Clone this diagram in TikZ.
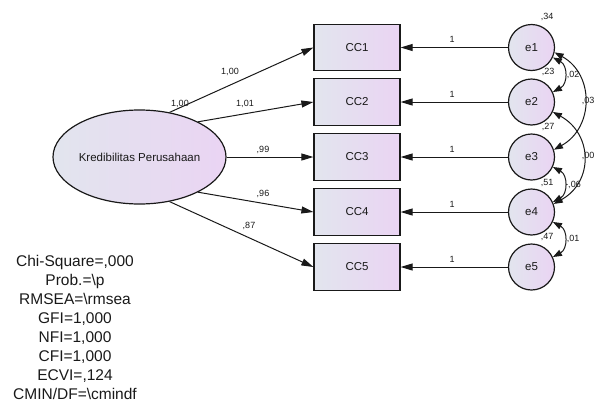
\documentclass[tikz,border=0pt]{standalone}
\usepackage{fontspec}
\setmainfont{Liberation Sans}
\usetikzlibrary{arrows.meta,shapes.geometric}
\definecolor{ink}{RGB}{25,25,25}
\definecolor{shadeL}{RGB}{226,229,238}
\definecolor{shadeR}{RGB}{234,212,243}
\begin{document}
\begin{tikzpicture}[x=1pt,y=-1pt,
  every node/.style={text=ink},
  fillgrad/.style={left color=shadeL, right color=shadeR},
  lat/.style={ellipse, draw=ink, line width=1.2pt, fillgrad,
    minimum width=173pt, minimum height=94pt, inner sep=0pt,
    font=\fontsize{11.5}{13}\selectfont},
  obs/.style={rectangle, draw=ink, line width=1.2pt, fillgrad,
    minimum width=86pt, minimum height=46.5pt, inner sep=0pt,
    font=\fontsize{11.5}{13}\selectfont},
  err/.style={circle, draw=ink, line width=1.2pt, fillgrad,
    minimum size=46pt, inner sep=0pt,
    font=\fontsize{11.5}{13}\selectfont},
  reg/.style={draw=ink, line width=1pt, -{Triangle[length=12pt,width=7pt]}},
  cov/.style={draw=ink, line width=1pt,
    {Triangle[length=9pt,width=6.5pt]}-{Triangle[length=9pt,width=6.5pt]}},
  est/.style={inner sep=0pt, font=\fontsize{9}{10}\selectfont},
  fitstats/.style={inner sep=0pt, align=center, font=\fontsize{15.5}{19}\selectfont}
]
\useasboundingbox (0,0) rectangle (597,402);

% latent variable
\node[lat] (kred) at (139.5,157) {Kredibilitas Perusahaan};

% indicators
\node[obs] (cc1) at (357,47.5) {CC1};
\node[obs] (cc2) at (357,102) {CC2};
\node[obs] (cc3) at (357,157) {CC3};
\node[obs] (cc4) at (357,212) {CC4};
\node[obs] (cc5) at (357,267) {CC5};

% error terms
\node[err] (e1) at (531.5,47.5) {e1};
\node[err] (e2) at (531.5,102) {e2};
\node[err] (e3) at (531.5,157) {e3};
\node[err] (e4) at (531.5,212) {e4};
\node[err] (e5) at (531.5,267) {e5};

% loadings
\draw[reg] (kred.56) -- (cc1.west);
\draw[reg] (kred.31) -- (cc2.west);
\draw[reg] (kred.0) -- (cc3.west);
\draw[reg] (kred.-31) -- (cc4.west);
\draw[reg] (kred.-56) -- (cc5.west);

% error paths
\draw[reg] (e1) -- (cc1);
\draw[reg] (e2) -- (cc2);
\draw[reg] (e3) -- (cc3);
\draw[reg] (e4) -- (cc4);
\draw[reg] (e5) -- (cc5);

% error covariances
\draw[cov] (e1.-25) .. controls +(15,8) and +(15,-8) .. (e2.25);
\draw[cov] (e1.-12) .. controls +(40,22) and +(40,-22) .. (e3.18);
\draw[cov] (e2.-25) .. controls +(40,22) and +(40,-22) .. (e4.20);
\draw[cov] (e3.-25) .. controls +(15,8) and +(15,-8) .. (e4.25);
\draw[cov] (e4.-25) .. controls +(15,8) and +(15,-8) .. (e5.25);

% estimates
\node[est] (l1) at (230,72) {1,00};
\node[est] (vk) at (180,104) {1,00};
\node[est] (l2) at (245,104) {1,01};
\node[est] (l3) at (263,150) {,99};
\node[est] (l4) at (263,194) {,96};
\node[est] (l5) at (249,226) {,87};

\node[est] (w1) at (452,39) {1};
\node[est] (w2) at (452,94) {1};
\node[est] (w3) at (452,149) {1};
\node[est] (w4) at (452,204) {1};
\node[est] (w5) at (452,259) {1};

\node[est] (v1) at (547,17) {,34};
\node[est] (v2) at (548,72) {,23};
\node[est] (v3) at (548,127) {,27};
\node[est] (v4) at (547,183) {,51};
\node[est] (v5) at (547,237) {,47};

\node[est] (c12) at (573,75) {,02};
\node[est] (c13) at (588,101) {,03};
\node[est] (c24) at (588,156) {,00};
\node[est] (c34) at (573,185) {-,06};
\node[est] (c45) at (573,239) {,01};

% fit statistics
\node[fitstats] (fit) at (75,327) {Chi-Square=,000\\Prob.=\textbackslash p\\RMSEA=\textbackslash rmsea\\GFI=1,000\\NFI=1,000\\CFI=1,000\\ECVI=,124\\CMIN/DF=\textbackslash cmindf};
\end{tikzpicture}
\end{document}
